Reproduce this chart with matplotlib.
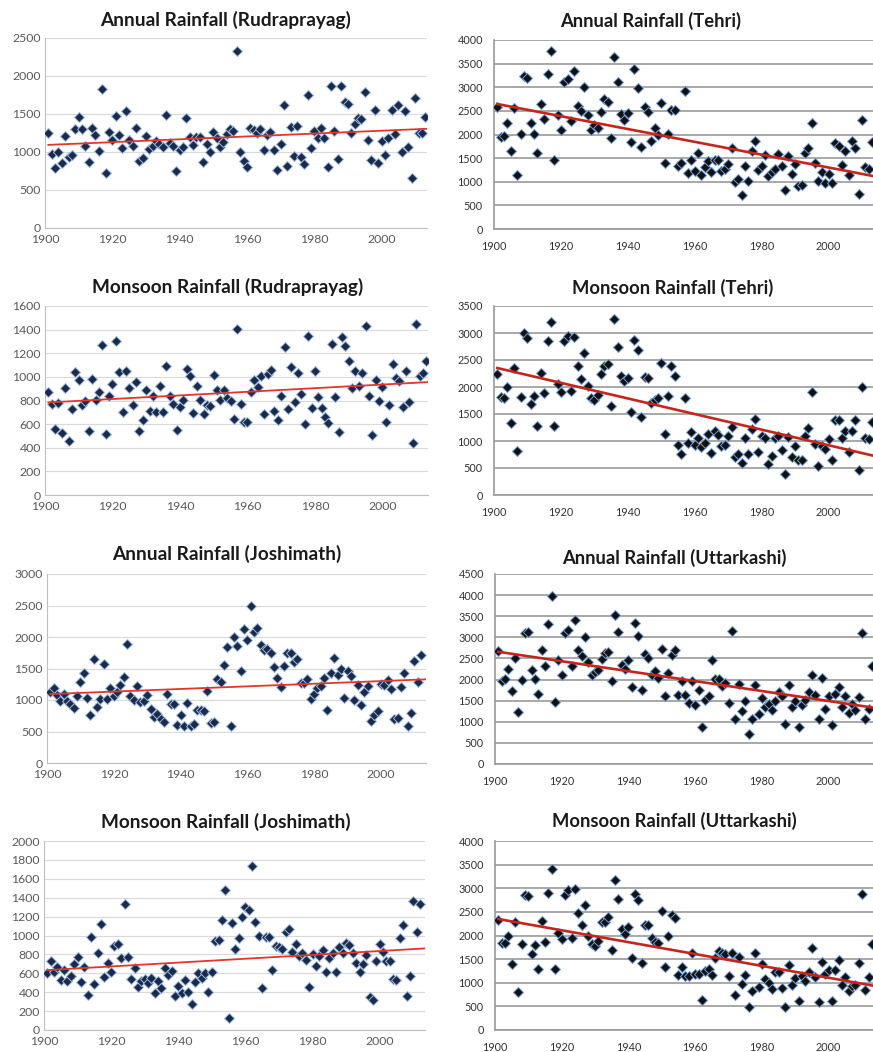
import numpy as np
import matplotlib
matplotlib.use("Agg")
import matplotlib.pyplot as plt

plt.rcParams['font.family'] = ['Lato', 'DejaVu Sans']

years_113 = list(range(1901, 2014))
years_112 = list(range(1901, 2013))

annual_rudraprayag = [1245, 980, 785, 1000, 860, 1210, 930, 960, 1300, 1460, 1300, 1085, 870, 1320, 1230, 1010, 1825, 730, 1265, 1155,
    1475, 1230, 1050, 1540, 1155, 1075, 1320, 885, 915, 1210, 1035, 1080, 1150, 1105, 1060, 1490, 1120, 1085, 755, 1025,
    1070, 1445, 1200, 1090, 1200, 1200, 870, 1100, 1000, 1265, 1190, 1070, 1135, 1240, 1300, 1275, 2335, 1000, 880, 805,
    1320, 1290, 1250, 1300, 1030, 1230, 1265, 1020, 760, 1110, 1620, 815, 1335, 945, 1340, 930, 840, 1745, 1050, 1280,
    1185, 1310, 1190, 800, 1865, 1275, 905, 1870, 1660, 1635, 1245, 1370, 1445, 1430, 1795, 1160, 900, 1550, 855, 1145,
    960, 1190, 1550, 1240, 1615, 1005, 1535, 1070, 660, 1705, 1250, 1250, 1460]

annual_tehri = [2575, 1940, 1968, 2250, 1644, 2554, 1143, 2010, 3238, 3203, 2236, 2010, 1615, 2638, 2321, 3280, 3767, 1467, 2413, 2088,
    3118, 3175, 2293, 3351, 2603, 2497, 2998, 2413, 2088, 2201, 2145, 2469, 2744, 2695, 1919, 3633, 3104, 2427, 2307, 2462,
    1834, 3379, 2984, 1742, 2589, 2476, 1862, 2138, 1989, 2667, 1390, 2010, 2519, 2519, 1340, 1397, 2921, 1192, 1460, 1235,
    1608, 1136, 1319, 1439, 1213, 1460, 1453, 1227, 1263, 1376, 1721, 1002, 1051, 713, 1333, 1016, 1651, 1862, 1249, 1340,
    1566, 1129, 1199, 1270, 1587, 1340, 825, 1552, 1157, 1376, 910, 924, 1601, 1721, 2236, 1390, 1016, 1206, 981, 1164,
    981, 1827, 1764, 1362, 1651, 1136, 1862, 1721, 741, 2307, 1319, 1277, 1834]

monsoon_rudraprayag = [871, 769, 560, 775, 523, 905, 455, 729, 1040, 970, 763, 800, 546, 984, 808, 871, 1272, 514, 834, 941,
    1306, 1040, 701, 1052, 905, 763, 955, 546, 633, 890, 707, 834, 701, 922, 701, 1094, 834, 772, 554, 749,
    806, 1069, 1009, 693, 922, 806, 687, 763, 755, 1018, 885, 806, 885, 820, 792, 645, 1408, 772, 616, 622,
    876, 970, 913, 1004, 687, 1026, 1054, 715, 639, 837, 1255, 729, 1080, 786, 1032, 857, 602, 1346, 738, 1052,
    828, 738, 664, 611, 1275, 828, 531, 1337, 1261, 1131, 905, 1046, 922, 1032, 1428, 837, 509, 970, 800, 913,
    616, 766, 1111, 989, 964, 749, 1049, 786, 438, 1445, 1004, 1035, 1134]

monsoon_tehri = [2235, 1815, 1802, 1994, 1340, 2346, 815, 1815, 3000, 2914, 1685, 1827, 1272, 2265, 1883, 2852, 3210, 1272, 2049, 1914,
    2852, 2951, 1926, 2926, 2395, 2142, 2623, 2019, 1790, 1765, 1852, 2241, 2389, 2420, 1654, 3265, 2735, 2204, 2111, 2173,
    1543, 2864, 2691, 1444, 2185, 2173, 1698, 1753, 1802, 2438, 1123, 1840, 2389, 2204, 926, 765, 1802, 957, 1167, 926,
    1049, 895, 957, 1136, 784, 1185, 1111, 907, 926, 1093, 1265, 710, 753, 599, 1049, 753, 1222, 1407, 802, 1099,
    1049, 568, 728, 1062, 1093, 833, 383, 1080, 698, 914, 642, 642, 1099, 1247, 1914, 938, 537, 914, 852, 1031,
    654, 1383, 1383, 1049, 1185, 802, 1191, 1383, 463, 2006, 1049, 1037, 1358]

annual_joshimath = [1126, 1189, 1073, 977, 1099, 982, 940, 871, 1057, 1285, 1428, 1035, 754, 1646, 887, 1019, 1566, 1009, 1195, 1062,
    1126, 1242, 1365, 1885, 1062, 993, 1216, 966, 982, 1083, 850, 738, 780, 701, 648, 1099, 940, 929, 611, 765,
    595, 950, 584, 621, 834, 844, 818, 1142, 632, 648, 1327, 1285, 1561, 1848, 584, 2002, 1853, 1466, 2124, 1949,
    2490, 2081, 2150, 1880, 1789, 1816, 1747, 1524, 1349, 1205, 1540, 1752, 1752, 1604, 1657, 1269, 1274, 1338, 1019, 1099,
    1195, 1216, 1349, 844, 1434, 1667, 1402, 1497, 1035, 1460, 1381, 1004, 1242, 913, 1126, 1216, 664, 765, 823, 1258,
    1242, 1312, 1179, 701, 712, 1205, 1434, 595, 791, 1614, 1285, 1720]

annual_uttarkashi = [2670, 1973, 2020, 2258, 1719, 2511, 1228, 1997, 3106, 3129, 2234, 2020, 1648, 2702, 2321, 3312, 3977, 1466, 2472, 2100,
    3114, 3185, 2321, 3407, 2694, 2559, 3003, 2416, 2100, 2179, 2226, 2496, 2638, 2654, 1957, 3526, 3129, 2337, 2258, 2472,
    1822, 3328, 3026, 1759, 2599, 2511, 2100, 2203, 2044, 2733, 1600, 2163, 2575, 2702, 1640, 1973, 1640, 1450, 1957, 1402,
    1743, 871, 1505, 1608, 2456, 2020, 2020, 1838, 1917, 1442, 3145, 1070, 1901, 1244, 1482, 713, 1070, 1878, 1188, 1561,
    1347, 1426, 1283, 1482, 1703, 1600, 951, 1862, 1339, 1489, 871, 1402, 1521, 1703, 2115, 1624, 1070, 2036, 1307, 1608,
    927, 1664, 1822, 1339, 1608, 1212, 1426, 1268, 1585, 3114, 1070, 1291, 2321]

monsoon_joshimath = [601, 728, 611, 664, 534, 636, 516, 576, 700, 770, 512, 664, 375, 989, 488, 813, 1124, 565, 707, 618,
    894, 912, 760, 1329, 777, 541, 657, 459, 516, 541, 498, 551, 389, 523, 442, 657, 583, 622, 364, 470,
    389, 530, 406, 276, 512, 601, 551, 601, 399, 618, 947, 954, 1159, 1477, 124, 1131, 852, 972, 1194, 1300,
    1265, 1735, 1148, 993, 442, 982, 989, 636, 894, 883, 859, 1035, 1071, 823, 912, 788, 813, 746, 459, 799,
    682, 788, 848, 618, 763, 816, 618, 883, 813, 922, 901, 816, 707, 611, 700, 795, 346, 318, 735, 912,
    830, 735, 735, 541, 530, 975, 1113, 364, 576, 1360, 1035, 1336]

monsoon_uttarkashi = [2324, 1831, 1831, 1986, 1387, 2289, 810, 1810, 2852, 2831, 1599, 1796, 1289, 2310, 1866, 2901, 3401, 1282, 2063, 1923,
    2852, 2958, 1951, 2993, 2486, 2218, 2641, 1993, 1817, 1775, 1880, 2289, 2289, 2394, 1690, 3183, 2768, 2148, 2042, 2183,
    1528, 2873, 2746, 1423, 2232, 2218, 1937, 1866, 1845, 2514, 1324, 1993, 2430, 2380, 1162, 1338, 1141, 1141, 1620, 1176,
    1176, 634, 1246, 1282, 1162, 1514, 1669, 1620, 1599, 1148, 1620, 739, 1535, 972, 1162, 493, 824, 1620, 901, 1394,
    1070, 1000, 866, 1232, 1232, 880, 493, 1373, 951, 1106, 620, 1141, 1035, 1232, 1746, 1127, 599, 1444, 1176, 1261,
    620, 1261, 1479, 951, 1120, 831, 937, 951, 1408, 2873, 845, 1127, 1810]

panels = [
    ("Annual Rainfall (Rudraprayag)", years_113, annual_rudraprayag, 2500, 500, 'L', (45, 38, 427, 228), 226, 26),
    ("Annual Rainfall (Tehri)", years_113, annual_tehri, 4000, 500, 'R', (494, 40, 873, 229), 651, 27),
    ("Monsoon Rainfall (Rudraprayag)", years_113, monsoon_rudraprayag, 1600, 200, 'L', (45, 306, 428, 495), 228, 293),
    ("Monsoon Rainfall (Tehri)", years_113, monsoon_tehri, 3500, 500, 'R', (494, 306, 873, 495), 673, 294),
    ("Annual Rainfall (Joshimath)", years_112, annual_joshimath, 3000, 500, 'L', (47, 574, 426, 763), 227, 560),
    ("Annual Rainfall (Uttarkashi)", years_113, annual_uttarkashi, 4500, 500, 'R', (495, 574, 873, 764), 674, 564),
    ("Monsoon Rainfall (Joshimath)", years_112, monsoon_joshimath, 2000, 200, 'L', (44, 841, 425, 1030), 226, 828),
    ("Monsoon Rainfall (Uttarkashi)", years_113, monsoon_uttarkashi, 4000, 500, 'R', (495, 841, 873, 1030), 674, 827),
]

W, H = 873, 1052
fig = plt.figure(figsize=(W / 100, H / 100), dpi=100)
fig.patch.set_facecolor('white')

for title, yrs, vals, ymax, ystep, side, box, tx, ty in panels:
    x0, y0, x1, y1 = box
    ax = fig.add_axes([x0 / W, 1 - y1 / H, (x1 - x0) / W, (y1 - y0) / H])
    yrs_a = np.array(yrs, dtype=float)
    vals_a = np.array(vals, dtype=float)
    if side == 'L':
        gcol, glw = '#d9d9d9', 0.8
        scol = '#bfbfbf'
        tcol = '#595959'
        mfc, mec = '#1c2a4a', '#9dbbe3'
        lcol, llw = '#e2352b', 1.3
        xmax = 2013.5
        ypad, xpad = 3, 4
        tsize, lsize = 13.7, 8.8
    else:
        gcol, glw = '#9a9a9a', 1.2
        scol = '#9a9a9a'
        tcol = '#333333'
        mfc, mec = '#111111', '#6f9bd6'
        lcol, llw = '#c4261d', 1.9
        xmax = 2013.3
        ypad, xpad = 8, 8.5
        tsize, lsize = 13.2, 7.8
    ax.set_xlim(1900, xmax)
    ax.set_ylim(0, ymax)
    ax.set_yticks(np.arange(0, ymax + 1, ystep))
    ax.set_xticks(np.arange(1900, 2001, 20))
    ax.grid(axis='y', color=gcol, linewidth=glw, zorder=0)
    ax.set_axisbelow(True)
    for s in ['top', 'right']:
        ax.spines[s].set_visible(False)
    for s in ['left', 'bottom']:
        ax.spines[s].set_color(scol)
        ax.spines[s].set_linewidth(glw)
    ax.tick_params(length=0, labelsize=lsize, colors=tcol)
    ax.tick_params(axis='y', pad=ypad)
    ax.tick_params(axis='x', pad=xpad)
    ax.plot(yrs_a, vals_a, linestyle='none', marker='D', markersize=4.8,
            markerfacecolor=mfc, markeredgecolor=mec, markeredgewidth=0.7, zorder=3)
    coef = np.polyfit(yrs_a, vals_a, 1)
    xl = np.array([yrs_a[0], max(yrs_a[-1], xmax)])
    ax.plot(xl, np.polyval(coef, xl), color=lcol, linewidth=llw, zorder=4)
    fig.text(tx / W, 1 - ty / H, title, ha='center', va='baseline',
             fontsize=tsize, fontweight='bold', color='#1a1a1a')

fig.savefig('out.png', dpi=100, facecolor='white')
